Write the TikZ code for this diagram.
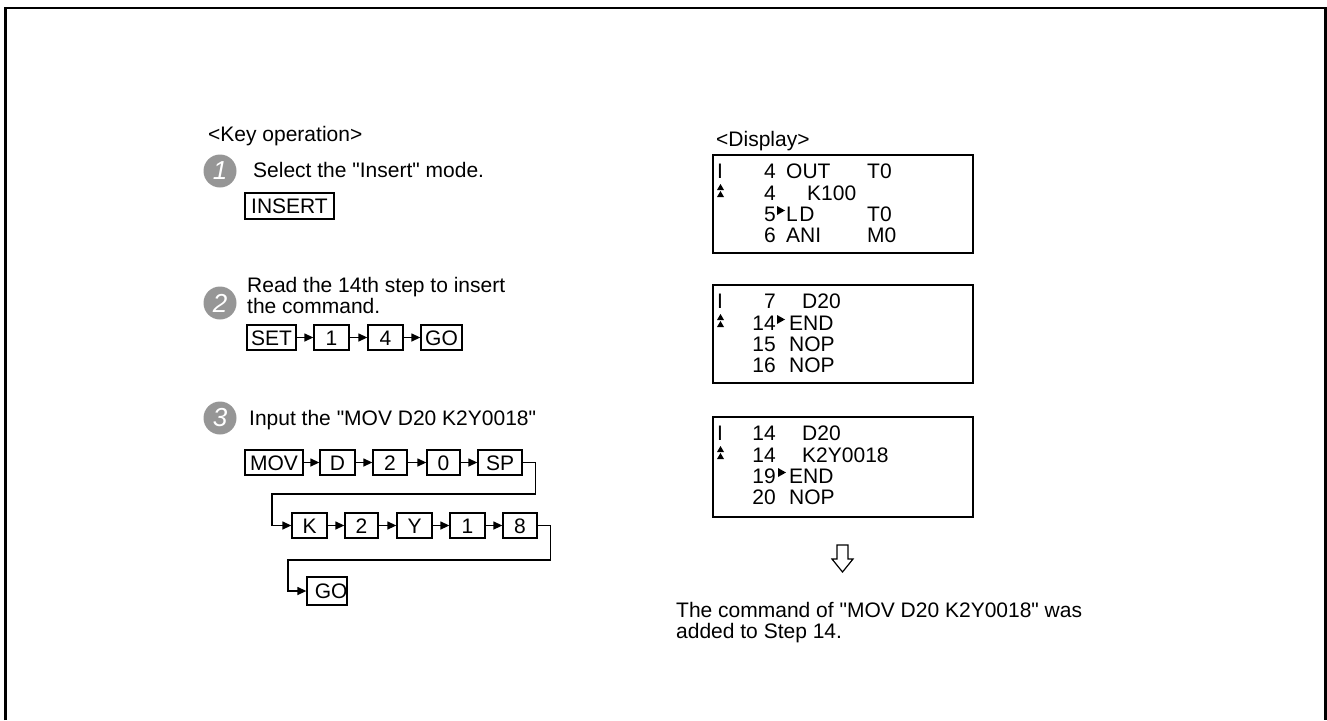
\documentclass[tikz,border=0pt]{standalone}
\usepackage{fontspec}
\setmainfont{Liberation Sans}
\newfontfamily\lib{Liberation Sans}
\usetikzlibrary{arrows.meta}
\definecolor{stepgray}{RGB}{150,150,150}
\begin{document}
\begin{tikzpicture}[x=1pt,y=1pt,
  every node/.style={font=\lib\fontsize{21}{21}\selectfont},
  txt/.style={anchor=base west, inner sep=0pt},
  rtxt/.style={anchor=base east, inner sep=0pt},
  keybox/.style={draw, line width=1.3pt, inner sep=0pt, minimum height=25pt, text height=15pt, text depth=0pt},
  dispbox/.style={draw, line width=1.8pt, inner sep=0pt, minimum width=260pt},
  arr/.style={line width=1.3pt, -{Triangle[length=9pt,width=8pt]}},
  stepcirc/.style={circle, fill=stepgray, minimum size=33pt, inner sep=0pt, text=white, font=\lib\fontsize{26}{26}\selectfont\itshape},
  updbl/.pic={\fill (-3.5,0) -- (3.5,0) -- (0,6) -- cycle; \fill (-3.5,7) -- (3.5,7) -- (0,13) -- cycle;},
  playtri/.pic={\fill (0,0) -- (0,9) -- (8,4.5) -- cycle;}
]
\useasboundingbox (0,0) rectangle (1327,-720);
% outer frame (open at the bottom)
\draw[line width=2.5pt] (5.5,-720) -- (5.5,-8) -- (1325.5,-8) -- (1325.5,-720);

% ---------- key operation ----------
\node[txt] (kop) at (208,-141) {<Key operation>};

\node[stepcirc] (s1) at (220,-171) {1};
\node[txt] (t1) at (253,-177) {Select the "Insert" mode.};
\node[keybox, minimum width=89pt, minimum height=26pt] (ins) at (289.5,-206) {INSERT};

\node[stepcirc] (s2) at (220,-303) {2};
\node[txt] (t2a) at (247,-292) {Read the 14th step to insert};
\node[txt] (t2b) at (247,-313) {the command.};
\node[keybox, minimum width=49pt] (set) at (271.5,-337.5) {SET};
\node[keybox, minimum width=35pt] (ka1) at (331.5,-337.5) {1};
\node[keybox, minimum width=35pt] (ka4) at (385.5,-337.5) {4};
\node[keybox, minimum width=41pt] (go2) at (441.5,-337.5) {GO};
\draw[arr] (set.east) -- (ka1.west);
\draw[arr] (ka1.east) -- (ka4.west);
\draw[arr] (ka4.east) -- (go2.west);

\node[stepcirc] (s3) at (220,-418) {3};
\node[txt] (t3) at (249,-425) {Input the "MOV D20 K2Y0018"};
\node[keybox, minimum width=58pt] (mov) at (274,-462.5) {MOV};
\node[keybox, minimum width=35pt] (kd) at (337.5,-462.5) {D};
\node[keybox, minimum width=34pt] (kb2) at (390,-462.5) {2};
\node[keybox, minimum width=33pt] (kb0) at (443.5,-462.5) {0};
\node[keybox, minimum width=44pt] (sp) at (500,-462.5) {SP};
\draw[arr] (mov.east) -- (kd.west);
\draw[arr] (kd.east) -- (kb2.west);
\draw[arr] (kb2.east) -- (kb0.west);
\draw[arr] (kb0.east) -- (sp.west);

\node[keybox, minimum width=35pt] (kk) at (309.5,-525.5) {K};
\node[keybox, minimum width=33pt] (kc2) at (361.5,-525.5) {2};
\node[keybox, minimum width=35pt] (ky) at (414.5,-525.5) {Y};
\node[keybox, minimum width=35pt] (kc1) at (467.5,-525.5) {1};
\node[keybox, minimum width=34pt] (kc8) at (520,-525.5) {8};
\draw[arr] (kk.east) -- (kc2.west);
\draw[arr] (kc2.east) -- (ky.west);
\draw[arr] (ky.east) -- (kc1.west);
\draw[arr] (kc1.east) -- (kc8.west);

\node[keybox, minimum width=40pt, minimum height=28pt] (go3) at (327,-591) {};
\node[anchor=east, inner sep=0pt, text height=15pt, text depth=0pt] (go3t) at (go3.east) {GO};

\coordinate (b1) at (272,-494);
\coordinate (b2) at (288,-560);
\draw[arr] (sp.east) -- ++(13,0) |- (b1) |- (kk.west);
\draw[arr] (kc8.east) -- ++(13,0) |- (b2) |- (go3.west);

% ---------- display ----------
\node[txt] (disp) at (716,-146) {<Display>};

% box 1 (top 155)
\node[dispbox, minimum height=98pt] (d1) at (843,-204) {};
\node[txt] at (717,-178) {I};
\node[rtxt] at (776,-178) {4};
\node[txt] at (786,-178) {OUT};
\node[txt] at (867,-178) {T0};
\pic at (720.5,-197) {updbl};
\node[rtxt] at (776,-200) {4};
\node[txt] at (807,-200) {K100};
\node[rtxt] at (776,-221) {5};
\pic at (777,-215) {playtri};
\node[txt] at (786,-221) {L\hspace{1.5pt}D};
\node[txt] at (867,-221) {T0};
\node[rtxt] at (776,-242) {6};
\node[txt] at (786,-242) {ANI};
\node[txt] at (867,-242) {M0};

% box 2 (top 285)
\node[dispbox, minimum height=98pt] (d2) at (843,-334) {};
\node[txt] at (717,-308) {I};
\node[rtxt] at (776,-308) {7};
\node[txt] at (802,-308) {D20};
\pic at (720.5,-327) {updbl};
\node[rtxt] at (776,-330) {14};
\pic at (777,-324) {playtri};
\node[txt] at (789,-330) {END};
\node[rtxt] at (776,-351) {15};
\node[txt] at (789,-351) {NOP};
\node[rtxt] at (776,-372) {16};
\node[txt] at (789,-372) {NOP};

% box 3 (top 417)
\node[dispbox, minimum height=100pt] (d3) at (843,-467) {};
\node[txt] at (717,-440) {I};
\node[rtxt] at (776,-440) {14};
\node[txt] at (802,-440) {D20};
\pic at (720.5,-459) {updbl};
\node[rtxt] at (776,-462) {14};
\node[txt] at (802,-462) {K2Y0018};
\node[rtxt] at (776,-483) {19};
\pic at (778,-477) {playtri};
\node[txt] at (789,-483) {END};
\node[rtxt] at (776,-504) {20};
\node[txt] at (789,-504) {NOP};

% hollow down arrow
\draw[line width=1.2pt, line join=miter] (837,-545) -- (848,-545) -- (848,-559) -- (853,-559) -- (842.5,-572) -- (832,-559) -- (837,-559) -- cycle;

\node[txt] (res1) at (676,-617) {The command of "MOV D20 K2Y0018" was};
\node[txt] (res2) at (676,-638) {added to Step 14.};
\end{tikzpicture}
\end{document}
